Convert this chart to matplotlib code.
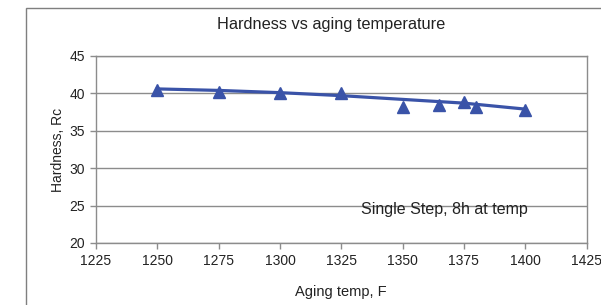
import matplotlib.pyplot as plt
from matplotlib.patches import Rectangle

# measured hardness values
temp = [1250, 1275, 1300, 1325, 1350, 1365, 1375, 1380, 1400]
hardness = [40.4, 40.2, 40.05, 40.0, 38.2, 38.5, 38.8, 38.2, 37.8]

# trend line
trend_temp = [1250, 1275, 1300, 1325, 1350, 1375, 1400]
trend_hard = [40.6, 40.4, 40.1, 39.7, 39.2, 38.7, 37.9]

xticks = list(range(1225, 1426, 25))
yticks = list(range(20, 46, 5))

blue = "#3a53a8"
grey = "#8c8c8c"
txt = "#222222"

plt.rcParams["font.family"] = ["Liberation Sans", "DejaVu Sans"]

fig = plt.figure(figsize=(6.01, 3.05), dpi=100)
W, H = 601, 305

# outer chart frame
fig.patches.append(Rectangle((26 / W, -0.1), 2, (H - 7.5) / H + 0.1,
                             transform=fig.transFigure, fill=False,
                             edgecolor="#7f7f7f", lw=1))

ax = fig.add_axes([96 / W, 1 - 243 / H, (586.5 - 96) / W, (243 - 56) / H])

ax.plot(trend_temp, trend_hard, color=blue, lw=2.3, zorder=3)
ax.plot(temp, hardness, ls="none", marker="^", ms=9, color=blue, zorder=4)

ax.set_xlim(1225, 1425)
ax.set_ylim(20, 45)
ax.set_xticks(xticks)
ax.set_yticks(yticks)
ax.yaxis.grid(True, color=grey, lw=1)
for s in ax.spines.values():
    s.set_color(grey)
    s.set_linewidth(1)
ax.tick_params(colors=txt, labelsize=10, length=4, width=1)
ax.tick_params(axis="x", color=grey, pad=4)
ax.tick_params(axis="y", color=grey, pad=4)

fig.text(331 / W, 1 - 25 / H, "Hardness vs aging temperature", fontsize=11.8,
         ha="center", va="center", color=txt)
ax.set_xlabel("Aging temp, F", fontsize=10.5, labelpad=12, color=txt)
ax.set_ylabel("Hardness, Rc", fontsize=10, labelpad=3, color=txt)
ax.text(1367, 24.5, "Single Step, 8h at temp", fontsize=11.5,
        ha="center", va="center", color=txt)

fig.savefig("out.png", dpi=100)
